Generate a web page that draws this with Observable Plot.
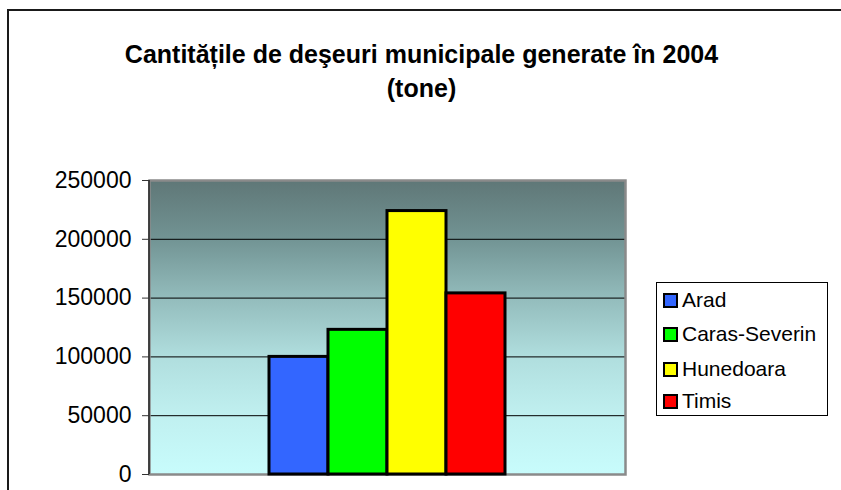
<!DOCTYPE html>
<html>
<head>
<meta charset="utf-8">
<script src="https://cdn.jsdelivr.net/npm/d3@7"></script>
<script src="https://cdn.jsdelivr.net/npm/@observablehq/plot@0.6"></script>
<style>
  html, body { margin: 0; padding: 0; background: #fff; }
  #wrap { position: relative; width: 841px; height: 490px; overflow: hidden; font-family: "Liberation Sans", Arial, sans-serif; color: #000; }
  #border { position: absolute; left: 7px; top: 9px; width: 900px; height: 600px; border-left: 2px solid #1a1a1a; border-top: 2px solid #1a1a1a; }
  #title { position: absolute; left: 1px; top: 37px; width: 841px; text-align: center; font-weight: bold; font-size: 25px; line-height: 34px; }
  #chart { position: absolute; left: 0; top: 0; }
  #legend { position: absolute; left: 656px; top: 282px; width: 170px; height: 132px; border: 1px solid #000; background: #fff; font-size: 21px; }
  .item { position: absolute; left: 6px; height: 24px; line-height: 24px; white-space: nowrap; }
  .sw { position: absolute; left: 0; top: 5px; width: 11px; height: 11px; border: 2px solid #000; }
  .lab { position: absolute; left: 19px; top: 0; }
</style>
</head>
<body>
<div id="wrap">
  <div id="border"></div>
  <div id="chart"></div>
  <div id="title">Cantitățile de deşeuri municipale generate în 2004<br>(tone)</div>
  <div id="legend"></div>
</div>
<script>
const counties = ["Arad", "Caras-Severin", "Hunedoara", "Timis"];
const values = [100000, 123000, 224000, 154000];
const colors = ["#3366ff", "#00ff00", "#ffff00", "#ff0000"];
const yTicks = [0, 50000, 100000, 150000, 200000, 250000];
const gridTicks = [50000, 100000, 150000, 200000];

const data = counties.map((c, i) => ({county: c, value: values[i]}));

const gradientDefs = () => {
  const ns = "http://www.w3.org/2000/svg";
  const defs = document.createElementNS(ns, "defs");
  defs.innerHTML = `<linearGradient id="bgGrad" x1="0" y1="0" x2="0" y2="1">
      <stop offset="0" stop-color="#5f7777"/>
      <stop offset="0.2" stop-color="#729494"/>
      <stop offset="0.4" stop-color="#93bcbc"/>
      <stop offset="0.6" stop-color="#b0dede"/>
      <stop offset="0.8" stop-color="#c0f0f0"/>
      <stop offset="1" stop-color="#c8fcfc"/>
    </linearGradient>`;
  return defs;
};

const leftAxisLine = (index, scales, values, dims) => {
  const ns = "http://www.w3.org/2000/svg";
  const ml = dims.marginLeft, mt = dims.marginTop, h = dims.height - dims.marginBottom;
  const line = document.createElementNS(ns, "line");
  line.setAttribute("x1", ml); line.setAttribute("x2", ml);
  line.setAttribute("y1", mt); line.setAttribute("y2", h);
  line.setAttribute("stroke", "#222");
  line.setAttribute("stroke-width", 1.5);
  return line;
};

const plot = Plot.plot({
  width: 841,
  height: 490,
  marginLeft: 149,
  marginRight: 216,
  marginTop: 180,
  marginBottom: 16,
  style: {fontFamily: "Liberation Sans, Arial, sans-serif", fontSize: "23px", color: "#000", background: "transparent", overflow: "visible"},
  x: {domain: counties, paddingInner: 0, paddingOuter: 2, axis: null},
  y: {domain: [0, 250000], axis: null},
  color: {domain: counties, range: colors},
  marks: [
    gradientDefs,
    Plot.frame({fill: "url(#bgGrad)", stroke: null}),
    Plot.ruleY(gridTicks, {stroke: "#000", strokeWidth: 1}),
    Plot.frame({stroke: "#8a8a8a", strokeWidth: 2.5}),
    Plot.barY(data, {x: "county", y: "value", fill: "county", stroke: "#000", strokeWidth: 3}),
    leftAxisLine,
    Plot.axisY({ticks: yTicks, tickFormat: d => String(d), tickSize: 7, tickPadding: 11, fontSize: 23, stroke: "#333", label: null})
  ]
});
document.getElementById("chart").appendChild(plot);

const legend = document.getElementById("legend");
const rowTops = [5, 39, 74, 106];
counties.forEach((c, i) => {
  const item = document.createElement("div");
  item.className = "item";
  item.style.top = (rowTops[i]) + "px";
  const sw = document.createElement("div");
  sw.className = "sw";
  sw.style.background = colors[i];
  const lab = document.createElement("div");
  lab.className = "lab";
  lab.textContent = c;
  item.appendChild(sw);
  item.appendChild(lab);
  legend.appendChild(item);
});
</script>
</body>
</html>
